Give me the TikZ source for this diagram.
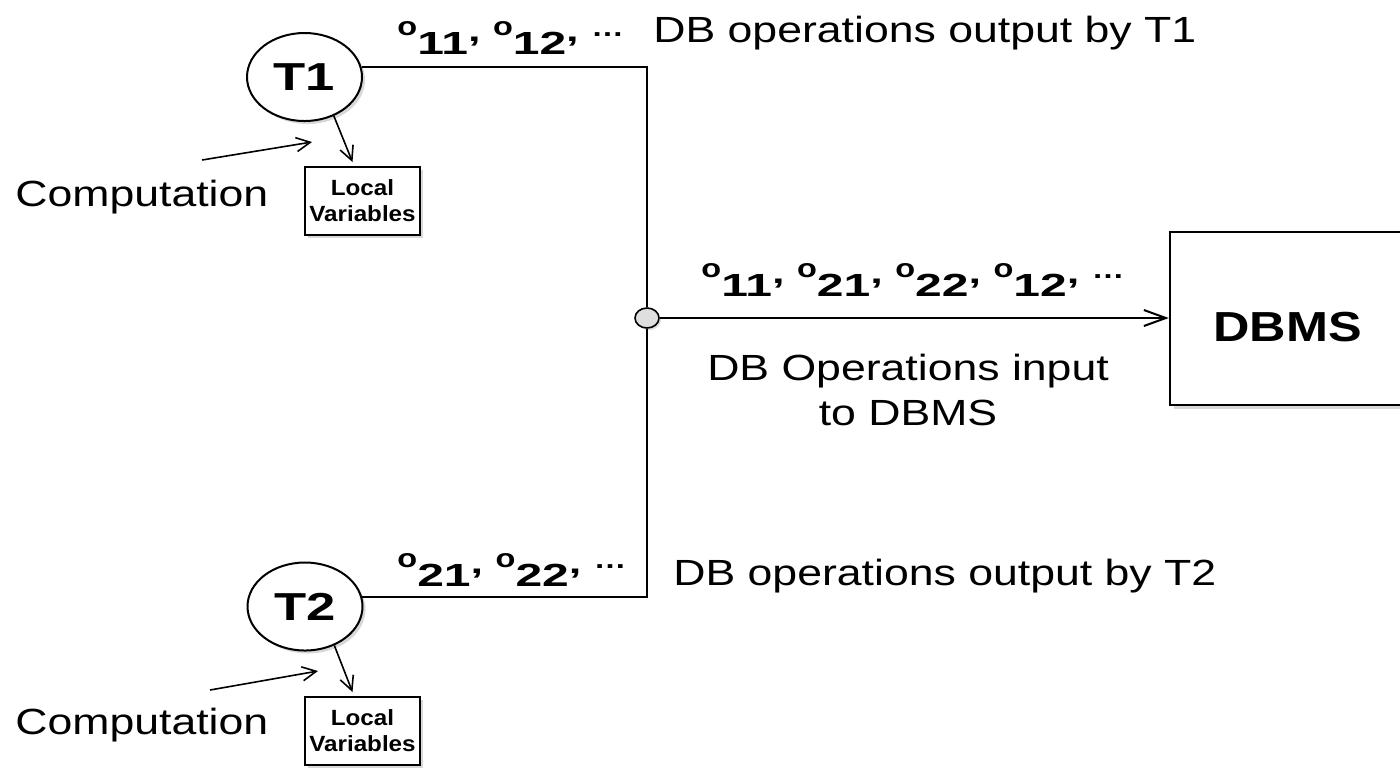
\documentclass[tikz,border=0pt]{standalone}
\usepackage{fontspec}
\setmainfont{Liberation Sans}
\usetikzlibrary{arrows.meta,shapes.geometric,shadows,calc}
\newfontfamily\rgfnt[FakeStretch=1.225]{Liberation Sans}
\newfontfamily\tnfnt[FakeStretch=1.35]{Liberation Sans}
\newfontfamily\dbfnt[FakeStretch=1.2]{Liberation Sans}
\newfontfamily\lvfnt[FakeStretch=1.1]{Liberation Sans}
\newfontfamily\ofnt[FakeStretch=1.25]{Liberation Sans}
\newfontfamily\dgfnt[FakeStretch=1.5]{Liberation Sans}
\newcommand\opo[1]{{\ofnt\bfseries\fontsize{13}{15}\selectfont o}{\dgfnt\bfseries\fontsize{16}{18}\selectfont\raisebox{-9.5pt}{#1}}}
\newcommand\opsep{{\dgfnt\bfseries\fontsize{15}{16}\selectfont\raisebox{-3pt}{,}\ }}
\newcommand\opdots{{\ofnt\bfseries\fontsize{13}{16}\selectfont\raisebox{-0.5pt}{…}}}
\begin{document}
\begin{tikzpicture}[x=0.5pt,y=-0.5pt,
  lbl/.style={inner sep=0pt, anchor=base west, font=\rgfnt\fontsize{18.2}{22}\selectfont},
  oplbl/.style={inner sep=0pt, anchor=base west},
  tnode/.style={ellipse, draw, line width=1pt, fill=white, minimum width=57.5pt, minimum height=44pt, inner sep=0pt,
    font=\tnfnt\bfseries\fontsize{19.5}{22}\selectfont,
    drop shadow={shadow xshift=1.5pt, shadow yshift=-1.5pt, opacity=0.3}},
  lvbox/.style={rectangle, draw, line width=1pt, fill=white, minimum width=57.5pt, minimum height=34pt, inner sep=0pt,
    align=center, font=\lvfnt\bfseries\fontsize{11}{13}\selectfont,
    drop shadow={shadow xshift=1.5pt, shadow yshift=-1.5pt, opacity=0.3}},
  dbbox/.style={rectangle, draw, line width=1.2pt, fill=white, minimum width=117.5pt, minimum height=86.5pt, inner sep=0pt,
    text height=23pt, text depth=0pt, font=\dbfnt\bfseries\fontsize{21}{24}\selectfont,
    drop shadow={shadow xshift=2pt, shadow yshift=-2pt, opacity=0.3}},
  junc/.style={ellipse, draw, line width=0.8pt, fill=gray!25, minimum width=12pt, minimum height=10pt, inner sep=0pt,
    drop shadow={shadow xshift=1pt, shadow yshift=-1pt, opacity=0.25}},
  conn/.style={line width=1pt},
  arr/.style={-{Straight Barb[length=7pt,width=7pt]}, line width=0.8pt},
  bigarr/.style={-{Straight Barb[length=11pt,width=8pt]}, line width=1pt}
]
\useasboundingbox (0,0) rectangle (1400,768);
\clip (0,0) rectangle (1400,768);
\fill[white] (0,0) rectangle (1400,768);

% nodes
\node[tnode] (T1) at (304.5,77) {T1};
\node[tnode] (T2) at (305,606.5) {T2};
\node[lvbox] (LV1) at (362.5,201) {Local\\Variables};
\node[lvbox] (LV2) at (362.5,731) {Local\\Variables};
\node[junc] (J) at (647,318) {};
\node[dbbox] (DBMS) at (1287.5,318.5) {DBMS};

% labels
\node[oplbl] (L1) at (397,35) {\opo{11}\opsep\opo{12}\opsep\opdots};
\node[oplbl] (L2) at (701,277) {\opo{11}\opsep\opo{21}\opsep\opo{22}\opsep\opo{12}\opsep\opdots};
\node[oplbl] (L3) at (397,567) {\opo{21}\opsep\opo{22}\opsep\opdots};
\node[lbl] (out1) at (653,42) {DB operations output by T1};
\node[lbl] (out2) at (673,585) {DB operations output by T2};
\node[lbl] (comp1) at (15,206) {Computation};
\node[lbl] (comp2) at (15,734) {Computation};
\node[lbl, anchor=base] (in1) at (908,380) {DB Operations input};
\node[lbl, anchor=base] (in2) at (908,425) {to DBMS};

% wires
\draw[conn] (T1.10) -- (T1.10 -| J.center) -- (J.north);
\draw[conn] (T2.9) -- (T2.9 -| J.center) -- (J.south);
\draw[bigarr] (J.east) -- (J.east -| DBMS.west);

% local arrows
\draw[arr] (T1.-53) -- ($(LV1.north)+(-10,-4)$);
\draw[arr] (T2.-53) -- ($(LV2.north)+(-10,-4)$);
\coordinate (c1s) at (202,160);
\coordinate (c1e) at (312,142);
\coordinate (c2s) at (210,690);
\coordinate (c2e) at (318,671);
\draw[arr] (c1s) -- (c1e);
\draw[arr] (c2s) -- (c2e);
\end{tikzpicture}
\end{document}
